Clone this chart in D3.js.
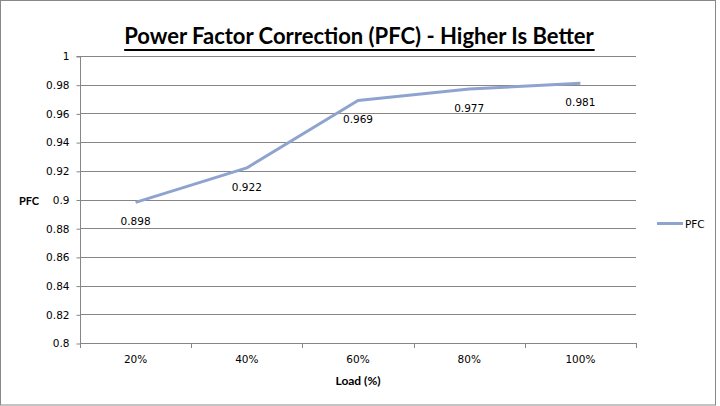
<!DOCTYPE html>
<html><head><meta charset="utf-8">
<script src="https://cdn.jsdelivr.net/npm/d3@7/dist/d3.min.js"></script>
<style>body{margin:0;background:#fff}svg{display:block}</style>
</head><body><svg id="c" width="720" height="406"></svg>
<script>
const categories = ["20%", "40%", "60%", "80%", "100%"];
const pfcValues = [0.898, 0.922, 0.969, 0.977, 0.981];
const yTicks = [0.8, 0.82, 0.84, 0.86, 0.88, 0.9, 0.92, 0.94, 0.96, 0.98, 1];
const seriesName = "PFC";
const titleText = "Power Factor Correction (PFC) - Higher Is Better";
const xTitle = "Load (%)";
const yTitle = "PFC";

const svg = d3.select("#c");
const pL = 80, pR = 636, pT = 56, pB = 343;
const grid = "#868686";
const lineColor = "#8ea4cf";

svg.append("rect").attr("x", 0.5).attr("y", 0.5).attr("width", 715).attr("height", 404.5)
  .attr("fill", "#fff").attr("stroke", "#888").attr("stroke-width", 1);

const x = d3.scaleBand().domain(categories).range([pL, pR]);
const y = d3.scaleLinear().domain([0.8, 1]).range([pB, pT]);

// gridlines
svg.append("g").selectAll("line").data(yTicks.slice(1)).join("line")
  .attr("x1", pL).attr("x2", pR)
  .attr("y1", d => Math.round(y(d)) + 0.5).attr("y2", d => Math.round(y(d)) + 0.5)
  .attr("stroke", grid).attr("stroke-width", 1);

// y axis
const yAxis = d3.axisLeft(y).tickValues(yTicks).tickSize(4).tickPadding(7)
  .tickFormat(d => d3.format("")(+d.toFixed(2)));
const gy = svg.append("g").attr("transform", `translate(${pL + 0.5},0.5)`).call(yAxis);
gy.select(".domain").attr("stroke", grid).attr("d", `M-4,${pT}H0V${pB}`);
gy.selectAll(".tick line").attr("stroke", grid);
gy.selectAll(".tick text").attr("font-family", "DejaVu Sans").attr("font-size", "10.5px").attr("fill", "#000");

// x axis
const xAxis = d3.axisBottom(x).tickSize(0).tickPadding(12);
const gx = svg.append("g").attr("transform", `translate(0,${pB + 0.5})`).call(xAxis);
gx.select(".domain").attr("stroke", grid).attr("d", `M${pL},0H${pR}`);
gx.selectAll(".tick text").attr("font-family", "DejaVu Sans").attr("font-size", "10.5px").attr("fill", "#000");
const bounds = categories.map(c => x(c)).concat([x(categories[categories.length - 1]) + x.bandwidth()]);
svg.append("g").selectAll("line").data(bounds).join("line")
  .attr("x1", d => Math.round(d) + 0.5).attr("x2", d => Math.round(d) + 0.5)
  .attr("y1", pB).attr("y2", pB + 5).attr("stroke", grid);

// line
const line = d3.line().x((d, i) => x(categories[i]) + x.bandwidth() / 2).y(d => y(d));
svg.append("path").datum(pfcValues).attr("d", line)
  .attr("fill", "none").attr("stroke", lineColor).attr("stroke-width", 3).attr("stroke-linejoin", "round");

// data labels
svg.append("g").selectAll("text").data(pfcValues).join("text")
  .attr("x", (d, i) => x(categories[i]) + x.bandwidth() / 2)
  .attr("y", d => y(d) + 23)
  .attr("text-anchor", "middle")
  .attr("font-family", "DejaVu Sans").attr("font-size", "10.5px").attr("fill", "#000")
  .text(d => d3.format(".3f")(d));

// title
const t = svg.append("text").attr("x", 359).attr("y", 44).attr("text-anchor", "middle")
  .attr("font-family", "Lato").attr("font-weight", "bold").attr("font-size", "22px").attr("fill", "#000")
  .text(titleText);
const bb = t.node().getBBox();
svg.append("rect").attr("x", bb.x).attr("y", 49).attr("width", bb.width).attr("height", 2).attr("fill", "#000");

// axis titles
svg.append("text").attr("x", 29).attr("y", 205).attr("text-anchor", "middle")
  .attr("font-family", "Lato").attr("font-weight", "bold").attr("font-size", "11px").text(yTitle);
svg.append("text").attr("x", 358).attr("y", 385).attr("text-anchor", "middle")
  .attr("font-family", "Lato").attr("font-weight", "bold").attr("font-size", "12px").text(xTitle);

// legend
svg.append("line").attr("x1", 657).attr("x2", 683).attr("y1", 223.5).attr("y2", 223.5)
  .attr("stroke", lineColor).attr("stroke-width", 3);
svg.append("text").attr("x", 685).attr("y", 227.5)
  .attr("font-family", "DejaVu Sans").attr("font-size", "10.5px").attr("fill", "#000").text(seriesName);
</script></body></html>
